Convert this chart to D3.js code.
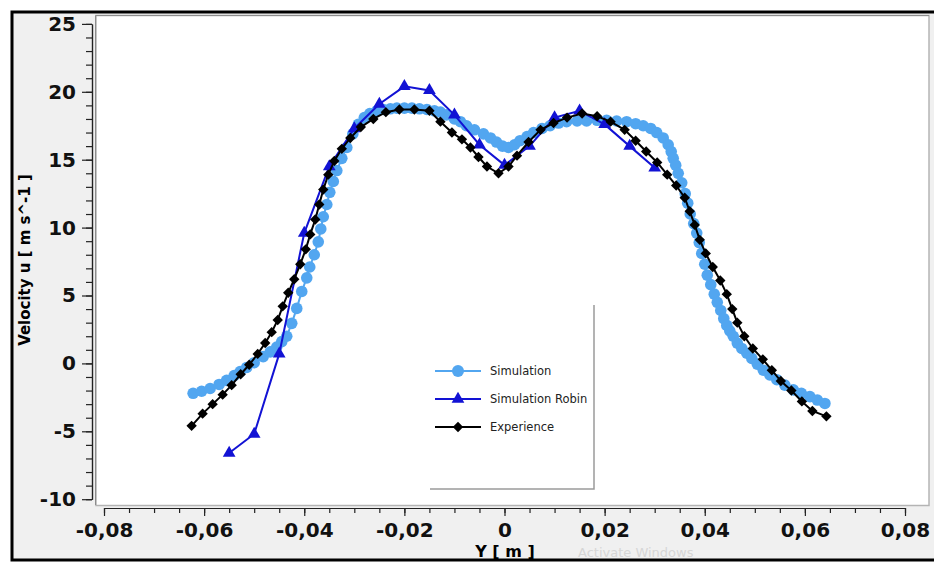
<!DOCTYPE html>
<html>
<head>
<meta charset="utf-8">
<script src="https://cdn.jsdelivr.net/npm/d3@7"></script>
<style>
  body { margin: 0; background: #fff; }
  text { font-family: "DejaVu Sans", Verdana, sans-serif; }
</style>
</head>
<body>
<div id="chart"></div>
<script>
var width = 934;
var height = 562;

// Simulation (light blue circles)
var simY = [-0.0622, -0.0605, -0.0588, -0.0570, -0.0555, -0.0540, -0.0528, -0.0515, -0.0500, -0.0482,
  -0.0468, -0.0455, -0.0445, -0.0435, -0.0425, -0.0415, -0.0405, -0.0395, -0.0389, -0.0380,
  -0.0372, -0.0367, -0.0362, -0.0355, -0.0349, -0.0342, -0.0335, -0.0325, -0.0315, -0.0303,
  -0.0292, -0.0280, -0.0269, -0.0255, -0.0242, -0.0228, -0.0215, -0.0200, -0.0185, -0.0170,
  -0.0155, -0.0140, -0.0128, -0.0116, -0.0100, -0.0088, -0.0076, -0.0060, -0.0042, -0.0028,
  -0.0016, -0.0004, 0.0008, 0.0020, 0.0031, 0.0045, 0.0058, 0.0075, 0.0091, 0.0108,
  0.0124, 0.0145, 0.0164, 0.0185, 0.0204, 0.0224, 0.0244, 0.0262, 0.0277, 0.0292,
  0.0304, 0.0317, 0.0327, 0.0333, 0.0337, 0.0342, 0.0347, 0.0354, 0.0361, 0.0366,
  0.0371, 0.0378, 0.0384, 0.0389, 0.0394, 0.0400, 0.0405, 0.0412, 0.0419, 0.0425,
  0.0432, 0.0438, 0.0444, 0.0450, 0.0457, 0.0465, 0.0474, 0.0484, 0.0494, 0.0505,
  0.0517, 0.0530, 0.0544, 0.0560, 0.0577, 0.0593, 0.0610, 0.0625, 0.0640];
var simU = [-2.2, -2.05, -1.85, -1.55, -1.25, -0.9, -0.6, -0.3, 0.05, 0.5,
  0.85, 1.2, 1.6, 2.0, 2.95, 4.05, 5.3, 6.3, 7.1, 8.0,
  8.95, 9.9, 10.8, 11.7, 12.6, 13.4, 14.2, 15.1, 15.9, 16.9,
  17.6, 18.1, 18.4, 18.6, 18.7, 18.75, 18.8, 18.8, 18.8, 18.75,
  18.7, 18.6, 18.5, 18.3, 18.0, 17.8, 17.5, 17.2, 16.9, 16.6,
  16.3, 16.0, 15.9, 16.1, 16.4, 16.7, 17.0, 17.3, 17.5, 17.7,
  17.8, 17.85, 17.85, 17.9, 17.9, 17.85, 17.8, 17.65, 17.5, 17.3,
  17.0, 16.6, 16.1, 15.6, 15.1, 14.6, 14.0, 13.3, 12.5, 11.8,
  11.0, 10.3, 9.6, 8.9, 8.1, 7.3, 6.5, 5.8, 5.1, 4.5,
  3.9, 3.3, 2.8, 2.4, 2.0, 1.5, 1.1, 0.75, 0.37, -0.05,
  -0.5, -0.85, -1.2, -1.6, -1.95, -2.2, -2.45, -2.7, -2.95];

// Simulation Robin (blue triangles)
var robinY = [-0.055, -0.050, -0.045, -0.040, -0.035, -0.030, -0.025, -0.020, -0.015,
  -0.010, -0.005, 0, 0.005, 0.010, 0.015, 0.020, 0.025, 0.030];
var robinU = [-6.6, -5.2, 0.7, 9.6, 14.5, 17.3, 19.1, 20.4, 20.1,
  18.3, 16.1, 14.6, 16.0, 18.1, 18.6, 17.6, 16.0, 14.4];

// Experience (black diamonds)
var expY = [-0.0625, -0.0603, -0.0583, -0.0563, -0.0545, -0.0527, -0.0510, -0.0493, -0.0478, -0.0465,
  -0.0453, -0.0443, -0.0432, -0.0420, -0.0408, -0.0397, -0.0388, -0.0378, -0.0370, -0.0362,
  -0.0352, -0.0340, -0.0325, -0.0308, -0.0287, -0.0262, -0.0237, -0.0210, -0.0180, -0.0150,
  -0.0128, -0.0105, -0.0085, -0.0068, -0.0052, -0.0035, -0.0012, 0.0008, 0.0025, 0.0048,
  0.0072, 0.0098, 0.0125, 0.0155, 0.0185, 0.0212, 0.0240, 0.0262, 0.0283, 0.0305,
  0.0325, 0.0343, 0.0360, 0.0370, 0.0380, 0.0390, 0.0402, 0.0416, 0.0431, 0.0444,
  0.0455, 0.0465, 0.0479, 0.0496, 0.0516, 0.0534, 0.0552, 0.0573, 0.0594, 0.0615, 0.0643];
var expU = [-4.6, -3.7, -3.0, -2.3, -1.6, -0.8, -0.1, 0.7, 1.5, 2.3,
  3.2, 4.2, 5.2, 6.2, 7.3, 8.4, 9.5, 10.6, 11.7, 12.8,
  13.9, 14.9, 15.8, 16.6, 17.4, 18.0, 18.5, 18.7, 18.7, 18.6,
  17.8, 17.0, 16.5, 15.9, 15.2, 14.5, 14.0, 14.5, 15.3, 16.3,
  17.2, 17.7, 18.1, 18.4, 18.2, 17.8, 17.2, 16.4, 15.6, 14.8,
  13.9, 13.1, 12.2, 11.2, 10.2, 9.1, 8.1, 7.1, 6.1, 5.1,
  4.0, 3.0, 2.0, 1.1, 0.3, -0.5, -1.3, -2.0, -2.8, -3.5, -3.9];

var seriesNames = ["Simulation", "Simulation Robin", "Experience"];
var seriesColors = ["#52a6f0", "#1212d4", "#000000"];

var xMajor = d3.range(-8, 9, 2).map(function(d) { return d / 100; });
var xMinor = d3.range(-16, 17).map(function(d) { return d / 200; });
var yMajor = d3.range(-10, 26, 5);
var yMinor = d3.range(-10, 26, 1);

var svg = d3.select("#chart").append("svg").attr("width", width).attr("height", height);

// outer frame
svg.append("rect").attr("x", 12).attr("y", 12).attr("width", 930).attr("height", 548)
  .attr("fill", "#f0f0f0").attr("stroke", "#000").attr("stroke-width", 3);

// plot area
svg.append("rect").attr("x", 96).attr("y", 15.5).attr("width", 833).attr("height", 490)
  .attr("fill", "#fff").attr("stroke", "#b4b4b4").attr("stroke-width", 1.5);
svg.append("path").attr("d", "M95.5,505V15.5H929").attr("fill", "none")
  .attr("stroke", "#8c8c8c").attr("stroke-width", 1);

var x = d3.scaleLinear().domain([-0.08, 0.08]).range([104, 905]);
var y = d3.scaleLinear().domain([-10, 25]).range([499.2, 23.9]);

var loc = d3.formatLocale({decimal: ",", thousands: ".", grouping: [3], currency: ["", ""], minus: "-"});
var fx = loc.format(".2f");
var fy = loc.format("d");

// axes: minor then major
svg.append("g").attr("transform", "translate(92,0)")
  .call(d3.axisLeft(y).tickValues(yMinor).tickSize(6).tickSizeOuter(0).tickFormat(""));
svg.append("g").attr("transform", "translate(92,0)")
  .call(d3.axisLeft(y).tickValues(yMajor).tickSize(10).tickSizeOuter(0).tickPadding(6).tickFormat(fy));

svg.append("g").attr("transform", "translate(0,508)")
  .call(d3.axisBottom(x).tickValues(xMinor).tickSize(5).tickSizeOuter(0).tickFormat(""));
svg.append("g").attr("transform", "translate(0,508)")
  .call(d3.axisBottom(x).tickValues(xMajor).tickSize(8).tickSizeOuter(0).tickPadding(7)
    .tickFormat(function(d) { return d === 0 ? "0" : fx(d); }));

svg.selectAll(".domain, .tick line").attr("stroke", "#222").attr("stroke-width", 1.2);
svg.selectAll(".tick text").attr("font-family", "DejaVu Sans").attr("font-weight", "bold")
  .attr("font-size", 20).attr("fill", "#111");

// axis titles
svg.append("text").attr("x", 505).attr("y", 557).attr("text-anchor", "middle")
  .attr("font-weight", "bold").attr("font-size", 16).text("Y [ m ]");
svg.append("text").attr("transform", "translate(30,260) rotate(-90)").attr("text-anchor", "middle")
  .attr("font-weight", "bold").attr("font-size", 15).text("Velocity u [ m s^-1 ]");

var line = d3.line().x(function(d) { return x(d[0]); }).y(function(d) { return y(d[1]); });

var simData = d3.zip(simY, simU);
var robinData = d3.zip(robinY, robinU);
var expData = d3.zip(expY, expU);

var triangle = d3.symbol().type(d3.symbolTriangle).size(70);
var diamond = d3.symbol().type(d3.symbolSquare).size(54);

// Simulation
svg.append("path").datum(simData).attr("d", line).attr("fill", "none")
  .attr("stroke", seriesColors[0]).attr("stroke-width", 2);
svg.selectAll(".sim").data(simData).enter().append("circle")
  .attr("class", "sim")
  .attr("cx", function(d) { return x(d[0]); })
  .attr("cy", function(d) { return y(d[1]); })
  .attr("r", 5.8).attr("fill", seriesColors[0]);

// Simulation Robin
svg.append("path").datum(robinData).attr("d", line).attr("fill", "none")
  .attr("stroke", seriesColors[1]).attr("stroke-width", 2);
svg.selectAll(".robin").data(robinData).enter().append("path")
  .attr("class", "robin")
  .attr("d", triangle)
  .attr("transform", function(d) { return "translate(" + x(d[0]) + "," + y(d[1]) + ")"; })
  .attr("fill", seriesColors[1]);

// Experience
svg.append("path").datum(expData).attr("d", line).attr("fill", "none")
  .attr("stroke", seriesColors[2]).attr("stroke-width", 2);
svg.selectAll(".exp").data(expData).enter().append("path")
  .attr("class", "exp")
  .attr("d", diamond)
  .attr("transform", function(d) { return "translate(" + x(d[0]) + "," + y(d[1]) + ") rotate(45)"; })
  .attr("fill", seriesColors[2]);

// legend
var legend = svg.append("g");
legend.append("path").attr("d", "M594,305V489H430").attr("fill", "none")
  .attr("stroke", "#9a9a9a").attr("stroke-width", 1.5);
var rows = legend.selectAll(".row").data(seriesNames).enter().append("g")
  .attr("transform", function(d, i) { return "translate(0," + (371 + i * 28) + ")"; });
rows.append("line").attr("x1", 435).attr("x2", 481)
  .attr("stroke", function(d, i) { return seriesColors[i]; }).attr("stroke-width", 2);
rows.each(function(d, i) {
  var r = d3.select(this);
  if (i === 0) r.append("circle").attr("cx", 458).attr("r", 6).attr("fill", seriesColors[0]);
  if (i === 1) r.append("path").attr("d", triangle).attr("transform", "translate(458,0)").attr("fill", seriesColors[1]);
  if (i === 2) r.append("path").attr("d", diamond).attr("transform", "translate(458,0) rotate(45)").attr("fill", seriesColors[2]);
});
rows.append("text").attr("x", 490).attr("y", 4).attr("font-size", 11.5).attr("fill", "#222")
  .text(function(d) { return d; });

// faint watermark near bottom edge
svg.append("text").attr("x", 578).attr("y", 557).attr("font-size", 13).attr("fill", "#d6d6d6")
  .text("Activate Windows");
</script>
</body>
</html>
